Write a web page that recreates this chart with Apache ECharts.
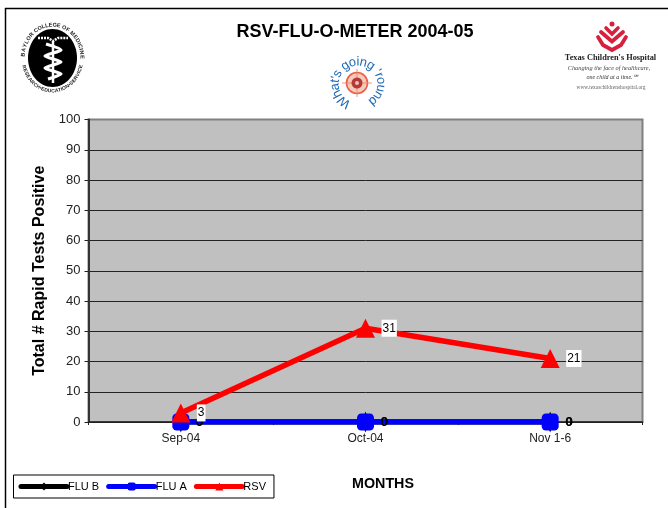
<!DOCTYPE html>
<html><head><meta charset="utf-8">
<style>html,body{margin:0;padding:0;background:#fff}#c{width:668px;height:508px}</style>
<script src="https://cdn.jsdelivr.net/npm/echarts@6/dist/echarts.min.js"></script>
</head><body><div id="c"></div>
<script>
const categories = ['Sep-04','Oct-04','Nov 1-6'];
const fluB = [0,0,0];
const fluA = [0,0,0];
const rsv = [3,31,21];
const yTicks = {min:0,max:100,interval:10};
const FONT = '"Liberation Sans", Arial, sans-serif';

const chart = echarts.init(document.getElementById('c'),null,{renderer:'canvas'});
const mc = document.createElement('canvas').getContext('2d');

function arcText(str,cx,cy,rx,ry,startDeg,endDeg,font,fill,flip){
  mc.font = font;
  const ws = [...str].map(ch=>mc.measureText(ch).width);
  const tot = ws.reduce((a,b)=>a+b,0);
  let acc = 0; const out=[];
  [...str].forEach((ch,i)=>{
    const t=(acc+ws[i]/2)/tot; acc+=ws[i];
    const d=startDeg+(endDeg-startDeg)*t, a=d*Math.PI/180;
    out.push({type:'text',x:cx+rx*Math.sin(a),y:cy-ry*Math.cos(a),rotation:flip?-(a-Math.PI):-a,
      style:{text:ch,font,fill,align:'center',verticalAlign:'middle'},silent:true});
  });
  return out;
}
const line=(x1,y1,x2,y2,stroke,lineWidth)=>({type:'line',shape:{x1,y1,x2,y2},style:{stroke,lineWidth},silent:true});
const txt=(text,x,y,font,fill)=>({type:'text',x,y,style:{text,font,fill:fill||'#000',align:'center',verticalAlign:'middle'},silent:true});

const graphics=[
  line(5.5,8,5.5,508,'#000',1.5), line(5,8.5,668,8.5,'#000',1.5),
  // Baylor seal
  {type:'ellipse',shape:{cx:52.5,cy:58,rx:24.5,ry:29},style:{fill:'#000'},silent:true},
  {type:'polyline',shape:{points:[[53,41],[53,83]]},style:{stroke:'#fff',lineWidth:2.5},silent:true},
  {type:'polyline',shape:{smooth:0.25,points:[[46,44],[61,50],[45,56],[61,62],[45,68],[61,74],[48,79]]},style:{stroke:'#fff',lineWidth:3.2,fill:'none'},silent:true},
  {type:'polyline',shape:{points:[[38,38],[48,38],[53,41],[58,38],[68,38]]},style:{stroke:'#fff',lineWidth:2.4,lineDash:[2,1],fill:'none'},silent:true},
  ...arcText('BAYLOR COLLEGE OF MEDICINE',52.5,58,29.5,33,-88,92,'bold 5.5px '+FONT,'#222'),
  ...arcText('RESEARCH•EDUCATION•SERVICE',52.5,58,29.5,33,258,102,'bold 5px '+FONT,'#222',true),
  // What's going 'round
  ...arcText("What's going 'round",358,84,23,22,-160,150,'13px '+FONT,'#1f6ab5'),
  {type:'circle',shape:{cx:357,cy:83,r:10.5},style:{fill:'#f6c9b8',stroke:'#e8604a',lineWidth:1.6},silent:true},
  line(342,83,372,83,'#e8805f',.8), line(357,69,357,97,'#e8805f',.8),
  {type:'circle',shape:{cx:357,cy:83,r:5.5},style:{fill:'#b23a3a'},silent:true},
  {type:'circle',shape:{cx:357,cy:83,r:2},style:{fill:'#f3c0b0'},silent:true},
  // Texas Children's logo
  {type:'circle',shape:{cx:612,cy:24,r:2.5},style:{fill:'#d81f3c'},silent:true},
  {type:'polyline',shape:{points:[[606,28],[612,34],[618,28]]},style:{stroke:'#d81f3c',lineWidth:3.6,fill:'none',lineCap:'round'},silent:true},
  {type:'polyline',shape:{points:[[601,32],[612,41.5],[623,32]]},style:{stroke:'#d81f3c',lineWidth:3.8,fill:'none',lineCap:'round'},silent:true},
  {type:'polyline',shape:{points:[[598,37],[603,45],[612,50],[621,45],[626,37]]},style:{stroke:'#d81f3c',lineWidth:3.8,fill:'none',lineCap:'round'},silent:true},
  txt("Texas Children's Hospital",610.5,58,'bold 8.3px "Liberation Serif", serif','#222'),
  txt('Changing the face of healthcare,',609,68,'italic 6.3px "Liberation Serif", serif','#444'),
  txt('one child at a time.\u2120',612,77,'italic 6px "Liberation Serif", serif','#333'),
  txt('www.texaschildrenshospital.org',611,88,'5.4px "Liberation Serif", serif','#666'),
  // axis titles
  txt('MONTHS',383,484,'bold 14.3px '+FONT),
];

const lbl=(extra)=>Object.assign({show:true,position:'right',distance:9,fontFamily:FONT,fontSize:12,color:'#000'},extra||{});
chart.setOption({
  animation:false,
  backgroundColor:'#fff',
  title:{text:'RSV-FLU-O-METER 2004-05',left:350,top:18,textAlign:'center',
    textStyle:{fontFamily:FONT,fontWeight:'bold',fontSize:18,color:'#000'}},
  legend:{left:13.5,top:475,padding:[6,8,6,5],itemGap:7,itemWidth:46,itemHeight:10,
    borderColor:'#000',borderWidth:1,
    lineStyle:{width:5,cap:'round'},
    data:['FLU B','FLU A','RSV'],
    textStyle:{fontFamily:FONT,fontSize:11,color:'#000',padding:[3,0,0,-4]}},
  grid:{left:88.5,right:25.5,top:119.5,height:302.5,containLabel:false,show:true,backgroundColor:'#C0C0C0',borderColor:'#808080',borderWidth:2},
  xAxis:{type:'category',data:categories,boundaryGap:true,
    axisLine:{lineStyle:{color:'#222',width:1.5}},
    axisTick:{show:true,alignWithLabel:false,length:3,lineStyle:{color:'#222'}},
    axisLabel:{fontFamily:FONT,fontSize:12,color:'#222',margin:11}},
  yAxis:{type:'value',min:yTicks.min,max:yTicks.max,interval:yTicks.interval,
    name:'Total # Rapid Tests Positive',nameLocation:'middle',nameGap:35,
    nameTextStyle:{fontFamily:FONT,fontWeight:'bold',fontSize:16,color:'#000'},
    axisLine:{show:true,lineStyle:{color:'#333',width:2}},
    axisTick:{show:true,length:4,lineStyle:{color:'#222'}},
    axisLabel:{fontFamily:FONT,fontSize:13,color:'#222',margin:8},
    splitLine:{show:true,showMaxLine:false,lineStyle:{color:'#222',width:1}}},
  series:[
    {name:'FLU B',type:'line',data:fluB,color:'#000',symbol:'diamond',symbolSize:[8,21],lineStyle:{width:5.5,color:'#000'},itemStyle:{color:'#000'},label:lbl({fontWeight:'bold',fontSize:13,distance:11})},
    {name:'FLU A',type:'line',data:fluA,color:'#0000ff',symbol:'roundRect',symbolSize:17,lineStyle:{width:5.5,color:'#0000ff'},itemStyle:{color:'#0000ff'},label:lbl({fontSize:13,distance:7})},
    {name:'RSV',type:'line',data:rsv,color:'#ff0000',symbol:'triangle',symbolSize:[19,19],lineStyle:{width:5.5,color:'#ff0000'},itemStyle:{color:'#ff0000'},
      label:lbl({backgroundColor:'#fff',padding:[3,1,2,1],distance:6.5})}
  ],
  graphic:{elements:graphics}
});
</script></body></html>
